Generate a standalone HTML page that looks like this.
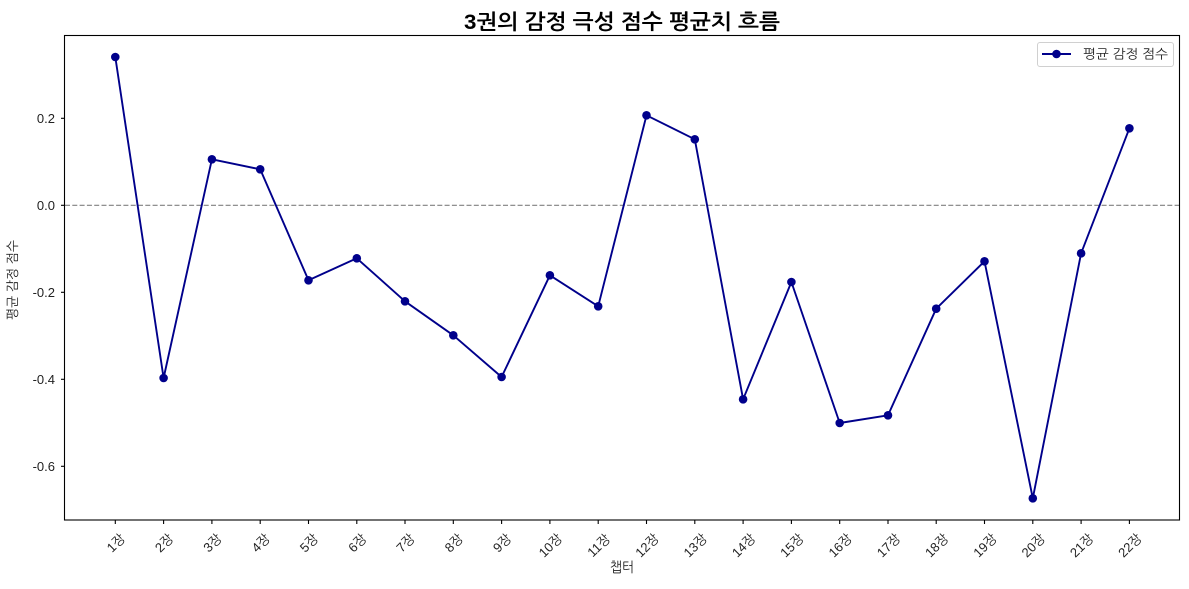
<!DOCTYPE html>
<html>
<head>
<meta charset="utf-8">
<style>
html,body{margin:0;padding:0;background:#fff;}
svg{display:block;}
text{font-family:"Liberation Sans","NanumGothic","Noto Sans CJK KR",sans-serif;fill:#222;}
</style>
</head>
<body>
<svg width="1189" height="589" viewBox="0 0 1189 589" xmlns="http://www.w3.org/2000/svg">
<rect width="1189" height="589" fill="#fff"/>
<!-- title -->
<text x="622" y="29" text-anchor="middle" font-size="21" font-weight="bold" textLength="316" lengthAdjust="spacingAndGlyphs" style="fill:#000">3권의 감정 극성 점수 평균치 흐름</text>

<!-- zero line -->
<line x1="65" y1="205.3" x2="1180" y2="205.3" stroke="#808080" stroke-width="1.2" stroke-dasharray="5,2.3"/>

<!-- series -->
<polyline fill="none" stroke="#00008B" stroke-width="1.9" stroke-linejoin="round" points="
115.3,57 163.6,378 211.9,159.3 260.2,169.3 308.5,280.3 356.8,258.3 405.0,301.3 453.3,335.3 501.6,377 549.9,275.3 598.2,306.3 646.5,115.3 694.8,139.3 743.1,399.3 791.4,282 839.7,423 888.0,415.3 936.2,308.7 984.5,261.3 1032.8,498.3 1081.1,253.3 1129.4,128.3"/>
<g fill="#00008B">
<circle cx="115.3" cy="57" r="4.3"/>
<circle cx="163.6" cy="378" r="4.3"/>
<circle cx="211.9" cy="159.3" r="4.3"/>
<circle cx="260.2" cy="169.3" r="4.3"/>
<circle cx="308.5" cy="280.3" r="4.3"/>
<circle cx="356.8" cy="258.3" r="4.3"/>
<circle cx="405.0" cy="301.3" r="4.3"/>
<circle cx="453.3" cy="335.3" r="4.3"/>
<circle cx="501.6" cy="377" r="4.3"/>
<circle cx="549.9" cy="275.3" r="4.3"/>
<circle cx="598.2" cy="306.3" r="4.3"/>
<circle cx="646.5" cy="115.3" r="4.3"/>
<circle cx="694.8" cy="139.3" r="4.3"/>
<circle cx="743.1" cy="399.3" r="4.3"/>
<circle cx="791.4" cy="282" r="4.3"/>
<circle cx="839.7" cy="423" r="4.3"/>
<circle cx="888.0" cy="415.3" r="4.3"/>
<circle cx="936.2" cy="308.7" r="4.3"/>
<circle cx="984.5" cy="261.3" r="4.3"/>
<circle cx="1032.8" cy="498.3" r="4.3"/>
<circle cx="1081.1" cy="253.3" r="4.3"/>
<circle cx="1129.4" cy="128.3" r="4.3"/>
</g>

<!-- axes frame -->
<rect x="64.5" y="35.5" width="1115" height="484.5" fill="none" stroke="#000" stroke-width="1.1"/>

<!-- y ticks -->
<g stroke="#000" stroke-width="1.1">
<line x1="61" y1="118.3" x2="64.5" y2="118.3"/>
<line x1="61" y1="205.3" x2="64.5" y2="205.3"/>
<line x1="61" y1="292.3" x2="64.5" y2="292.3"/>
<line x1="61" y1="379.3" x2="64.5" y2="379.3"/>
<line x1="61" y1="466.3" x2="64.5" y2="466.3"/>
</g>
<g font-size="13" text-anchor="end">
<text x="55" y="123">0.2</text>
<text x="55" y="210">0.0</text>
<text x="55" y="297">-0.2</text>
<text x="55" y="384">-0.4</text>
<text x="55" y="471">-0.6</text>
</g>

<!-- x ticks -->
<g stroke="#000" stroke-width="1.1">
<line x1="115.3" y1="520" x2="115.3" y2="524"/>
<line x1="163.6" y1="520" x2="163.6" y2="524"/>
<line x1="211.9" y1="520" x2="211.9" y2="524"/>
<line x1="260.2" y1="520" x2="260.2" y2="524"/>
<line x1="308.5" y1="520" x2="308.5" y2="524"/>
<line x1="356.8" y1="520" x2="356.8" y2="524"/>
<line x1="405.0" y1="520" x2="405.0" y2="524"/>
<line x1="453.3" y1="520" x2="453.3" y2="524"/>
<line x1="501.6" y1="520" x2="501.6" y2="524"/>
<line x1="549.9" y1="520" x2="549.9" y2="524"/>
<line x1="598.2" y1="520" x2="598.2" y2="524"/>
<line x1="646.5" y1="520" x2="646.5" y2="524"/>
<line x1="694.8" y1="520" x2="694.8" y2="524"/>
<line x1="743.1" y1="520" x2="743.1" y2="524"/>
<line x1="791.4" y1="520" x2="791.4" y2="524"/>
<line x1="839.7" y1="520" x2="839.7" y2="524"/>
<line x1="888.0" y1="520" x2="888.0" y2="524"/>
<line x1="936.2" y1="520" x2="936.2" y2="524"/>
<line x1="984.5" y1="520" x2="984.5" y2="524"/>
<line x1="1032.8" y1="520" x2="1032.8" y2="524"/>
<line x1="1081.1" y1="520" x2="1081.1" y2="524"/>
<line x1="1129.4" y1="520" x2="1129.4" y2="524"/>
</g>
<g font-size="13" text-anchor="middle" dominant-baseline="central">
<text x="115.8" y="543" transform="rotate(-45 115.8 543)">1장</text>
<text x="164.1" y="543" transform="rotate(-45 164.1 543)">2장</text>
<text x="212.4" y="543" transform="rotate(-45 212.4 543)">3장</text>
<text x="260.7" y="543" transform="rotate(-45 260.7 543)">4장</text>
<text x="309.0" y="543" transform="rotate(-45 309.0 543)">5장</text>
<text x="357.3" y="543" transform="rotate(-45 357.3 543)">6장</text>
<text x="405.5" y="543" transform="rotate(-45 405.5 543)">7장</text>
<text x="453.8" y="543" transform="rotate(-45 453.8 543)">8장</text>
<text x="502.1" y="543" transform="rotate(-45 502.1 543)">9장</text>
<text x="550.4" y="545.5" transform="rotate(-45 550.4 545.5)">10장</text>
<text x="598.7" y="545.5" transform="rotate(-45 598.7 545.5)">11장</text>
<text x="647.0" y="545.5" transform="rotate(-45 647.0 545.5)">12장</text>
<text x="695.3" y="545.5" transform="rotate(-45 695.3 545.5)">13장</text>
<text x="743.6" y="545.5" transform="rotate(-45 743.6 545.5)">14장</text>
<text x="791.9" y="545.5" transform="rotate(-45 791.9 545.5)">15장</text>
<text x="840.2" y="545.5" transform="rotate(-45 840.2 545.5)">16장</text>
<text x="888.5" y="545.5" transform="rotate(-45 888.5 545.5)">17장</text>
<text x="936.7" y="545.5" transform="rotate(-45 936.7 545.5)">18장</text>
<text x="985.0" y="545.5" transform="rotate(-45 985.0 545.5)">19장</text>
<text x="1033.3" y="545.5" transform="rotate(-45 1033.3 545.5)">20장</text>
<text x="1081.6" y="545.5" transform="rotate(-45 1081.6 545.5)">21장</text>
<text x="1129.9" y="545.5" transform="rotate(-45 1129.9 545.5)">22장</text>
</g>

<!-- axis labels -->
<text x="622" y="572" text-anchor="middle" font-size="14" textLength="24" lengthAdjust="spacingAndGlyphs">챕터</text>
<text x="0" y="0" text-anchor="middle" font-size="13" textLength="80" lengthAdjust="spacingAndGlyphs" transform="translate(17 280) rotate(-90)">평균 감정 점수</text>

<!-- legend -->
<rect x="1037.5" y="42.5" width="136" height="24" rx="2.5" ry="2.5" fill="#fff" fill-opacity="0.8" stroke="#d0d0d0" stroke-width="1"/>
<line x1="1042" y1="54" x2="1071" y2="54" stroke="#00008B" stroke-width="1.9"/>
<circle cx="1056.5" cy="54" r="4.3" fill="#00008B"/>
<text x="1083" y="58.5" font-size="13" textLength="85" lengthAdjust="spacingAndGlyphs">평균 감정 점수</text>
</svg>
</body>
</html>
